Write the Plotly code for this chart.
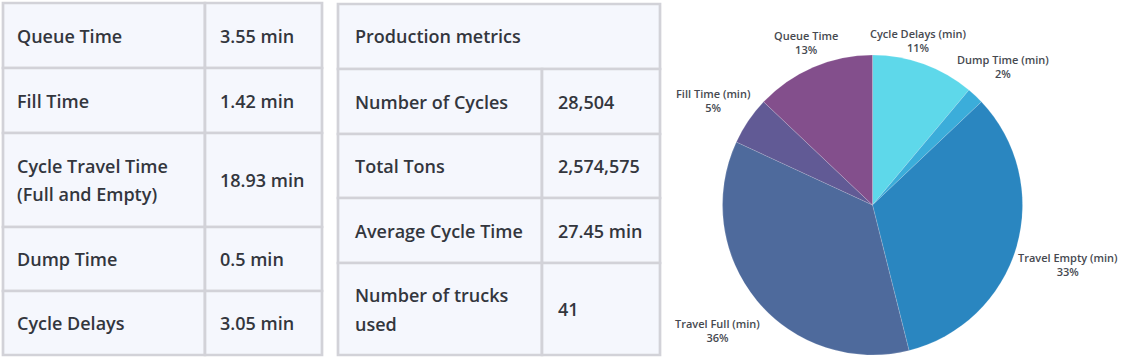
import plotly.graph_objects as go

W, H = 1134, 363

# ---- data ----
left_labels = ["Queue Time", "Fill Time", "Cycle Travel Time<br>(Full and Empty)", "Dump Time", "Cycle Delays"]
left_values = ["3.55 min", "1.42 min", "18.93 min", "0.5 min", "3.05 min"]

prod_title = "Production metrics"
prod_labels = ["Number of Cycles", "Total Tons", "Average Cycle Time", "Number of trucks<br>used"]
prod_values = ["28,504", "2,574,575", "27.45 min", "41"]

pie_labels = ["Cycle Delays (min)", "Dump Time (min)", "Travel Empty (min)",
              "Travel Full (min)", "Fill Time (min)", "Queue Time"]
pie_values = [3.05, 0.5, 9.10, 9.83, 1.42, 3.55]
pie_colors = ["#5ed8ea", "#3badda", "#2a86c0", "#4e6a9c", "#615a95", "#834f8c"]

# ---- layout geometry (pixels) ----
left_x = [3, 205, 322]
left_rows = [3, 68, 133, 227, 291, 355]
mid_x = [338, 542, 660]
mid_rows = [4, 69, 134, 198, 263, 355]
# label block centres for the pie labels (pixels), same order as pie_labels
pie_label_pos = [(918, 40), (1003, 67), (1068, 264), (717, 330), (713, 100), (806, 43)]

BORDER = "#d2d2d8"
FILL = "#f5f7fd"
TXT = "#33363d"
FONT = "Open Sans"
FS = 18


def px(x):
    return x / W


def py(y):
    return 1 - y / H


shapes = []
annotations = []


def rect(x0, y0, x1, y1):
    shapes.append(dict(type="rect", xref="paper", yref="paper",
                       x0=px(x0), x1=px(x1), y0=py(y1), y1=py(y0),
                       fillcolor=FILL, line=dict(color=BORDER, width=2.7), layer="below"))


def text(x, ycenter, s, lh=28):
    lines = s.split("<br>")
    n = len(lines)
    for i, ln in enumerate(lines):
        yy = ycenter + (i - (n - 1) / 2) * lh
        annotations.append(dict(xref="paper", yref="paper", x=px(x), y=py(yy),
                                text=ln, showarrow=False, xanchor="left", yanchor="middle",
                                font=dict(family=FONT, size=FS, color=TXT, weight=600)))


# left table
for i, (lab, val) in enumerate(zip(left_labels, left_values)):
    y0, y1 = left_rows[i], left_rows[i + 1]
    rect(left_x[0], y0, left_x[1], y1)
    rect(left_x[1], y0, left_x[2], y1)
    yc = (y0 + y1) / 2
    text(left_x[0] + 12, yc, lab)
    text(left_x[1] + 13, yc, val)

# middle table
rect(mid_x[0], mid_rows[0], mid_x[2], mid_rows[1])
text(mid_x[0] + 15, (mid_rows[0] + mid_rows[1]) / 2, prod_title)
for i, (lab, val) in enumerate(zip(prod_labels, prod_values)):
    y0, y1 = mid_rows[i + 1], mid_rows[i + 2]
    rect(mid_x[0], y0, mid_x[1], y1)
    rect(mid_x[1], y0, mid_x[2], y1)
    yc = (y0 + y1) / 2
    text(mid_x[0] + 15, yc, lab, lh=29)
    text(mid_x[1] + 14, yc, val)

# pie
cx, cy, r = 872.5, 205, 150
fig = go.Figure(go.Pie(
    labels=pie_labels, values=pie_values, sort=False, direction="clockwise", rotation=0,
    marker=dict(colors=pie_colors, line=dict(color="rgba(255,255,255,0.3)", width=0.5)),
    textinfo="none",
    domain=dict(x=[px(cx - r), px(cx + r)], y=[py(cy + r), py(cy - r)]),
    showlegend=False, hoverinfo="label+percent",
))

total = sum(pie_values)
for lab, v, (lx, ly) in zip(pie_labels, pie_values, pie_label_pos):
    pct = round(100 * v / total)
    annotations.append(dict(xref="paper", yref="paper", x=px(lx), y=py(ly),
                            text=f"{lab}<br>{pct}%", showarrow=False,
                            xanchor="center", yanchor="middle", align="center",
                            font=dict(family=FONT, size=11, color="#464950", weight=600)))

fig.update_layout(width=W, height=H, margin=dict(l=0, r=0, t=0, b=0),
                  paper_bgcolor="white", plot_bgcolor="white",
                  shapes=shapes, annotations=annotations, showlegend=False)
fig.write_html("out.html", config={"displayModeBar": False},
               post_script="document.body.style.margin='0px';")
